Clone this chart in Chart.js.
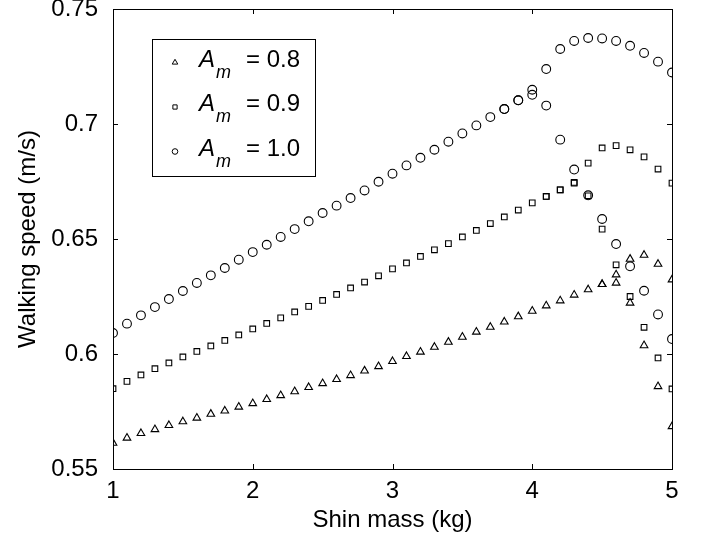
<!DOCTYPE html>
<html>
<head>
<meta charset="utf-8">
<script src="https://cdn.jsdelivr.net/npm/chart.js@4/dist/chart.umd.min.js"></script>
<style>
  html, body { margin: 0; padding: 0; background: #fff; }
  #wrap { width: 705px; height: 537px; position: relative; }
</style>
</head>
<body>
<div id="wrap"><canvas id="speedChart"></canvas></div>
<script>
// Shin mass values (kg), one point every 0.1 kg
const shinMass = [1.0, 1.1, 1.2, 1.3, 1.4, 1.5, 1.6, 1.7, 1.8, 1.9,
                  2.0, 2.1, 2.2, 2.3, 2.4, 2.5, 2.6, 2.7, 2.8, 2.9,
                  3.0, 3.1, 3.2, 3.3, 3.4, 3.5, 3.6, 3.7, 3.8, 3.9,
                  4.0, 4.1, 4.2, 4.3, 4.4, 4.5, 4.6, 4.7, 4.8, 4.9, 5.0];

// Main (upper) branch, walking speed in m/s
const speedAm08 = [0.5613, 0.5635, 0.5655, 0.5672, 0.5690, 0.5706, 0.5722, 0.5739, 0.5753, 0.5770,
                   0.5785, 0.5803, 0.5820, 0.5837, 0.5855, 0.5872, 0.5890, 0.5907, 0.5927, 0.5946,
                   0.5968, 0.5990, 0.6009, 0.6030, 0.6052, 0.6074, 0.6096, 0.6117, 0.6140, 0.6163,
                   0.6187, 0.6210, 0.6232, 0.6257, 0.6280, 0.6303, 0.6345, 0.6413, 0.6430, 0.6391, 0.6323];
const speedAm09 = [0.5849, 0.5881, 0.5909, 0.5936, 0.5961, 0.5987, 0.6011, 0.6035, 0.6059, 0.6083,
                   0.6109, 0.6133, 0.6157, 0.6183, 0.6207, 0.6233, 0.6259, 0.6287, 0.6313, 0.6340,
                   0.6370, 0.6396, 0.6424, 0.6453, 0.6480, 0.6509, 0.6537, 0.6567, 0.6596, 0.6626,
                   0.6657, 0.6685, 0.6714, 0.6746, 0.6830, 0.6896, 0.6906, 0.6888, 0.6857, 0.6804, 0.6743];
const speedAm10 = [0.6091, 0.6132, 0.6168, 0.6204, 0.6239, 0.6274, 0.6309, 0.6342, 0.6374, 0.6410,
                   0.6443, 0.6475, 0.6509, 0.6543, 0.6577, 0.6613, 0.6645, 0.6678, 0.6711, 0.6749,
                   0.6784, 0.6820, 0.6853, 0.6888, 0.6923, 0.6959, 0.6994, 0.7030, 0.7065, 0.7103,
                   0.7149, 0.7239, 0.7326, 0.7361, 0.7374, 0.7372, 0.7361, 0.7340, 0.7309, 0.7271, 0.7224];

// Second (lower) branch near the end of the range
const lowMassAm08 = [4.5, 4.6, 4.7, 4.8, 4.9, 5.0];
const lowSpeedAm08 = [0.6303, 0.6309, 0.6222, 0.6037, 0.5859, 0.5685];
const lowMassAm09 = [4.1, 4.2, 4.3, 4.4, 4.5, 4.6, 4.7, 4.8, 4.9, 5.0];
const lowSpeedAm09 = [0.6685, 0.6714, 0.6743, 0.6688, 0.6543, 0.6388, 0.6250, 0.6116, 0.5983, 0.5848];
const lowMassAm10 = [3.8, 3.9, 4.0, 4.1, 4.2, 4.3, 4.4, 4.5, 4.6, 4.7, 4.8, 4.9, 5.0];
const lowSpeedAm10 = [0.7065, 0.7103, 0.7127, 0.7080, 0.6932, 0.6802, 0.6690, 0.6587, 0.6478, 0.6381, 0.6275, 0.6172, 0.6065];

const xTickLabels = ['1', '2', '3', '4', '5'];
const yTickLabels = ['0.55', '0.6', '0.65', '0.7', '0.75'];
const legendValues = ['0.8', '0.9', '1.0'];

const FONT = 'Liberation Sans, Arial, Helvetica, sans-serif';

function toPoints(xs, ys) {
    return xs.map((x, i) => ({ x: x, y: ys[i] }));
}

function markerSet(label, xs, ys, style, radius) {
    return {
        label: label,
        data: toPoints(xs, ys),
        showLine: false,
        pointStyle: style,
        pointRadius: radius,
        pointHoverRadius: radius,
        pointBorderWidth: 1.1,
        pointBorderColor: '#000',
        pointBackgroundColor: 'rgba(0,0,0,0)'
    };
}

// frame with inward ticks on all four sides + custom legend with subscripts
const framePlugin = {
    id: 'frame',
    afterDraw(chart) {
        const { ctx, chartArea: a, scales } = chart;
        ctx.save();
        ctx.strokeStyle = '#000';
        ctx.lineWidth = 1;
        ctx.strokeRect(Math.round(a.left) + 0.5, Math.round(a.top) + 0.5,
                       Math.round(a.right - a.left), Math.round(a.bottom - a.top));
        const tl = 5;
        ctx.beginPath();
        scales.x.ticks.forEach(t => {
            const px = Math.round(scales.x.getPixelForValue(t.value)) + 0.5;
            ctx.moveTo(px, a.bottom); ctx.lineTo(px, a.bottom - tl);
            ctx.moveTo(px, a.top); ctx.lineTo(px, a.top + tl);
        });
        scales.y.ticks.forEach(t => {
            const py = Math.round(scales.y.getPixelForValue(t.value)) + 0.5;
            ctx.moveTo(a.left, py); ctx.lineTo(a.left + tl, py);
            ctx.moveTo(a.right, py); ctx.lineTo(a.right - tl, py);
        });
        ctx.stroke();

        // legend box
        const bx = 152, by = 39, bw = 163, bh = 137;
        ctx.fillStyle = '#fff';
        ctx.fillRect(bx, by, bw, bh);
        ctx.strokeRect(bx + 0.5, by + 0.5, bw, bh);
        const styles = ['triangle', 'rect', 'circle'];
        const radii = [3.2, 3, 2.8];
        const baselines = [66.5, 111, 155.5];
        styles.forEach((st, i) => {
            const yb = baselines[i];
            ctx.strokeStyle = '#000';
            ctx.fillStyle = 'rgba(0,0,0,0)';
            ctx.lineWidth = 1;
            Chart.helpers.drawPoint(ctx, { pointStyle: st, radius: radii[i], borderWidth: 1 }, 175, yb - 4);
            ctx.fillStyle = '#000';
            ctx.textBaseline = 'alphabetic';
            ctx.textAlign = 'left';
            ctx.font = 'italic 24px ' + FONT;
            ctx.fillText('A', 199, yb);
            ctx.font = 'italic 18px ' + FONT;
            ctx.fillText('m', 216, yb + 11);
            ctx.font = '24px ' + FONT;
            ctx.fillText('= ' + legendValues[i], 246, yb);
        });
        ctx.restore();
    }
};

const ctx = document.getElementById('speedChart');
const chart = new Chart(ctx, {
    type: 'scatter',
    data: {
        datasets: [
            markerSet('Am08', shinMass, speedAm08, 'triangle', 4.4),
            markerSet('Am09', shinMass, speedAm09, 'rect', 4),
            markerSet('Am10', shinMass, speedAm10, 'circle', 4.4),
            markerSet('Am08 low', lowMassAm08, lowSpeedAm08, 'triangle', 4.4),
            markerSet('Am09 low', lowMassAm09, lowSpeedAm09, 'rect', 4),
            markerSet('Am10 low', lowMassAm10, lowSpeedAm10, 'circle', 4.4)
        ]
    },
    options: {
        responsive: true,
        maintainAspectRatio: false,
        animation: false,
        layout: { padding: { top: 9, right: 33, left: 0, bottom: 0 } },
        plugins: {
            legend: { display: false },
            tooltip: { enabled: false }
        },
        scales: {
            x: {
                type: 'linear',
                min: 1,
                max: 5,
                grid: { display: false },
                border: { display: false },
                ticks: {
                    stepSize: 1,
                    color: '#000',
                    padding: 0,
                    maxRotation: 0,
                    font: { family: FONT, size: 24 },
                    callback: function(value) {
                        return xTickLabels[Math.round(value) - 1];
                    }
                },
                title: {
                    display: true,
                    text: 'Shin mass (kg)',
                    color: '#000',
                    font: { family: FONT, size: 24 },
                    padding: { top: 0, bottom: 2 }
                },
                afterFit: function(scale) {
                    scale.height = 68;
                    scale.paddingLeft = 0;
                    scale.paddingRight = 0;
                }
            },
            y: {
                type: 'linear',
                min: 0.55,
                max: 0.75,
                grid: { display: false },
                border: { display: false },
                ticks: {
                    stepSize: 0.05,
                    color: '#000',
                    padding: 7,
                    font: { family: FONT, size: 24 },
                    callback: function(value) {
                        return yTickLabels[Math.round((value - 0.55) / 0.05)];
                    }
                },
                title: {
                    display: true,
                    text: 'Walking speed (m/s)',
                    color: '#000',
                    font: { family: FONT, size: 24 },
                    padding: { top: 14, bottom: 0 }
                },
                afterFit: function(scale) {
                    scale.width = 113;
                    scale.paddingTop = 0;
                    scale.paddingBottom = 0;
                }
            }
        }
    },
    plugins: [framePlugin]
});
</script>
</body>
</html>
